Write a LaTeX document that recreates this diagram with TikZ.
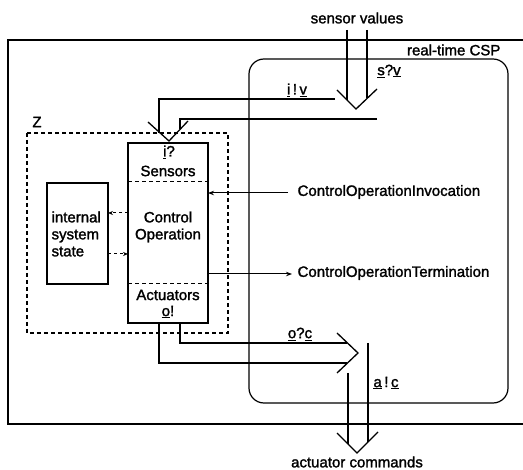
\documentclass[tikz,border=0pt]{standalone}
\usepackage{fontspec}
\newfontfamily\labelfont{Liberation Sans}[FakeBold=1.6]
\usetikzlibrary{arrows.meta}
\begin{document}
\begin{tikzpicture}[x=1pt,y=-1pt,
  line width=1.2pt,
  lbl/.style={inner sep=0pt,font=\labelfont\fontsize{15}{18}\selectfont},
  dashbox/.style={dash pattern=on 4pt off 3pt,line width=1.2pt},
  sep/.style={dash pattern=on 4pt off 3pt,line width=1pt},
  chan/.style={line width=1.3pt},
  head/.style={line width=1.3pt},
  sig/.style={line width=1pt,-{Stealth[length=6pt,width=4.5pt]}},
  dsig/.style={line width=1pt,dash pattern=on 3pt off 3pt,-{Stealth[length=5pt,width=4pt]}}]
\useasboundingbox (0,0) rectangle (523,470);

% system frame, open to the right
\draw (523,40) -- (8,40) -- (8,424) -- (523,424);

% real-time CSP process
\draw[rounded corners=15pt] (249,59) rectangle (508,403);
\node[lbl,anchor=east] (csp) at (501,50) {real-time CSP};

% Z part
\draw[dashbox] (27,133) rectangle (228,333);
\node[lbl] (z) at (37,122) {Z};

% internal system state
\draw (47,183) rectangle (108,284);
\node[lbl,align=left,anchor=west] (state) at (51,234)
  {internal\\[-1pt]system\\[-1pt]state};
\coordinate (stR1) at (108,213);
\coordinate (stR2) at (108,254);

% control operation box
\draw (128,143) rectangle (208,323);
\draw[sep] (128,182) -- (208,182);
\draw[sep] (128,284) -- (208,284);
\node[lbl] (iq) at (169,152) {\underline{i}?};
\node[lbl] (sens) at (168,171) {Sensors};
\node[lbl,align=center] (op) at (168,227) {Control\\[-1pt]Operation};
\node[lbl] (act) at (168,295) {Actuators};
\node[lbl] (oe) at (168,312) {\underline{o}!};
\coordinate (coL1) at (128,213);
\coordinate (coL2) at (128,254);
\draw[dsig] (coL1) -- (stR1);
\draw[dsig] (stR2) -- (coL2);

% invocation and termination events
\node[lbl,anchor=west] (inv) at (297,192) {ControlOperationInvocation};
\node[lbl,anchor=west] (term) at (297,273) {ControlOperationTermination};
\coordinate (coR1) at (208,193);
\coordinate (coR2) at (208,274);
\draw[sig] (inv.west |- coR1) ++(-9,0) -- (coR1);
\draw[sig] (coR2) -- ([xshift=-5pt]term.west |- coR2);

% sensor values channel
\node[lbl] (sv) at (357,18) {sensor values};
\coordinate (svL) at (347,30);
\coordinate (svR) at (367,30);
\draw[chan] (svL) -- (347,100);
\draw[chan] (svR) -- (367,98);
\draw[head] (337,90) -- (356,109) -- (377,89);
\node[lbl] (sq) at (389,71) {\underline{s}?\underline{v}};

% channel into the sensors
\node[lbl] (iv) at (297,90) {\underline{i}\,!\,\underline{v}};
\draw[chan] (335,99) -- (159,99) -- (159,133);
\draw[chan] (377,119) -- (180,119) -- (180,129);
\draw[head] (148,122) -- (169,141) -- (188,121);

% channel out of the actuators
\draw[chan] (180,323) -- (180,343) -- (347,343);
\draw[chan] (159,323) -- (159,363) -- (347,363);
\draw[head] (337,333) -- (358,353) -- (337,373);
\node[lbl] (oc) at (300,334) {\underline{o}?\underline{c}};

% actuator commands channel
\draw[chan] (368,343) -- (368,442);
\draw[chan] (348,373) -- (348,444);
\draw[head] (337,433) -- (357,453) -- (378,432);
\node[lbl] (ac) at (386,383) {\underline{a}\,!\,\underline{c}};
\node[lbl] (acmd) at (357,462) {actuator commands};
\end{tikzpicture}
\end{document}
